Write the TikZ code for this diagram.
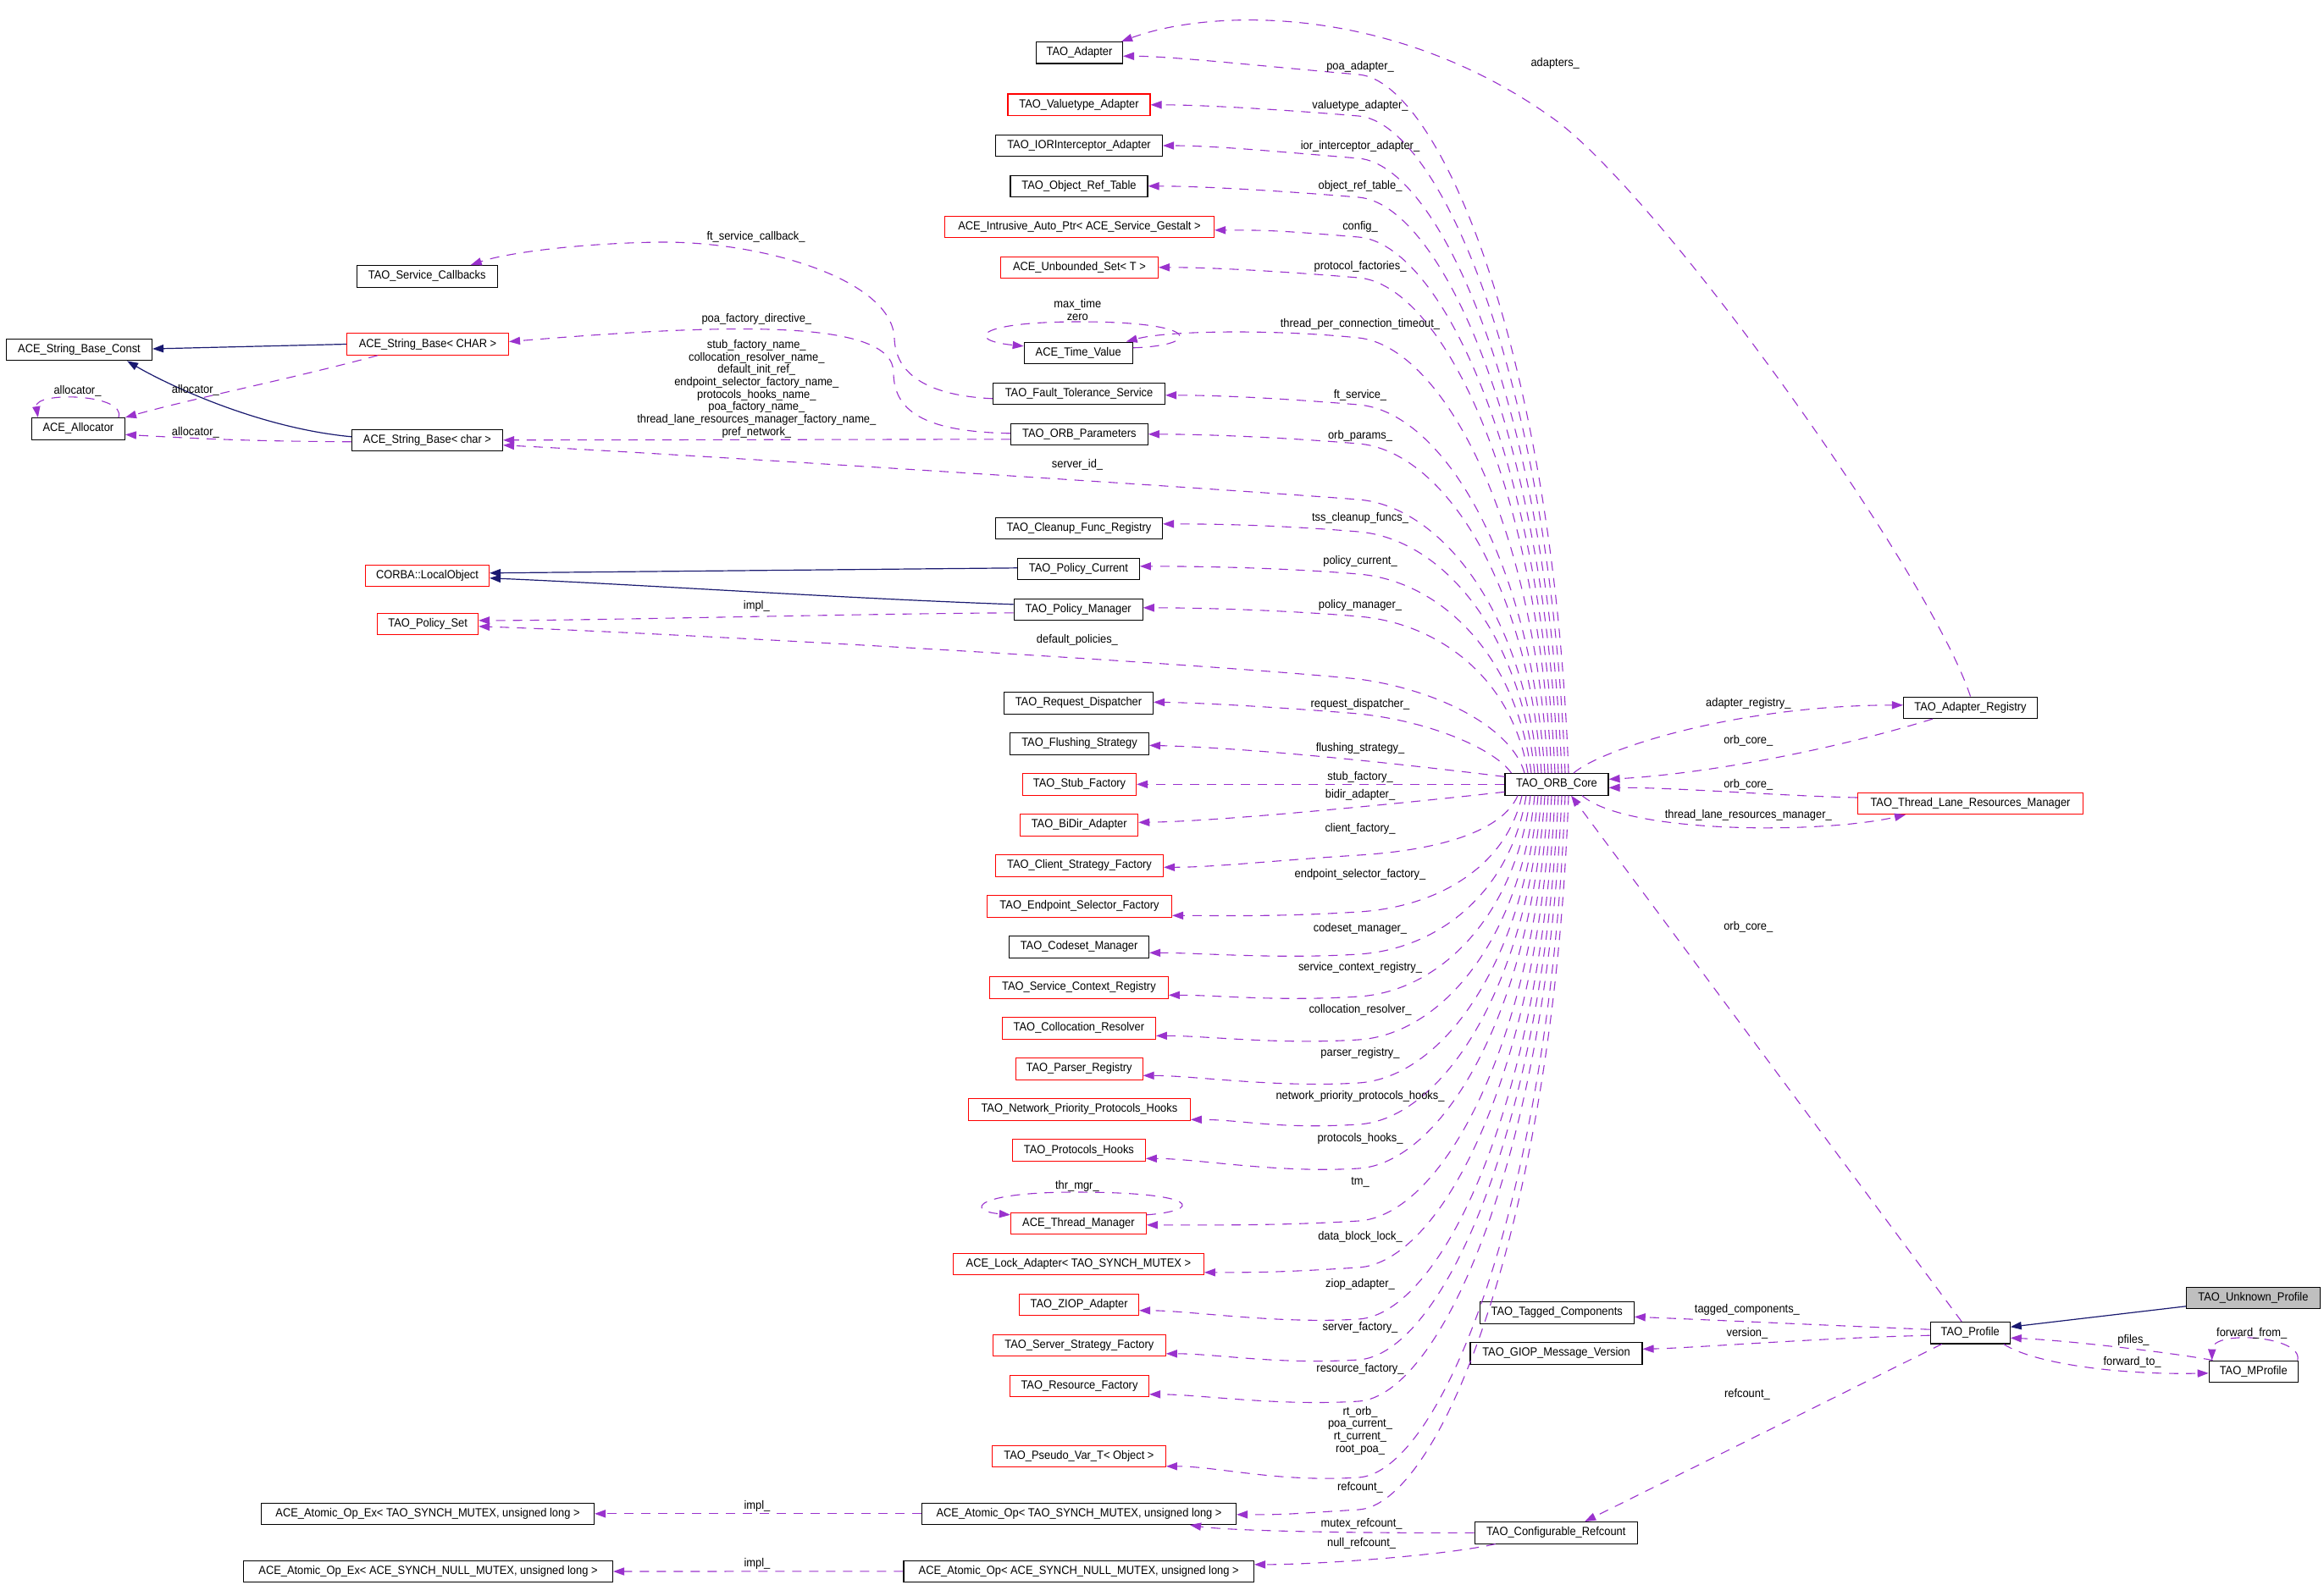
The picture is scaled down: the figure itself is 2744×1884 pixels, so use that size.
\documentclass[tikz,border=0pt]{standalone}
\usepackage{fontspec}
\setmainfont{Liberation Sans}[FakeStretch=0.92]
\usetikzlibrary{arrows.meta,calc}
\definecolor{purp}{HTML}{9A32CD}
\definecolor{navyb}{HTML}{191970}
\definecolor{greyf}{HTML}{BFBFBF}
\newcommand\dxfont{\fontsize{7}{7.35}\selectfont}
\tikzset{
  cls/.style={draw=black, line width=0.55pt, rectangle, minimum height=12.75pt, inner xsep=1pt, inner ysep=0pt, font=\dxfont},
  rcls/.style={cls, draw=red},
  mem/.style={draw=purp, line width=0.55pt, dash pattern=on 5.5pt off 4.5pt, -{Triangle[length=6.5pt,width=4.6pt]}},
  inh/.style={draw=navyb, line width=0.6pt, -{Triangle[length=6.5pt,width=4.6pt]}},
  lbl/.style={font=\dxfont, inner sep=0pt, align=center, text=black},
}
% edge from the top of the core to a member class on the left
\newcommand\coreup[4]{%
  \draw[mem] ($(core.north)+({#2-1838},0)$) .. controls ({#2-18},{#3+0.4*(913-#3)}) and (1700,{#3+8}) .. (1604,#3) .. controls (1508,{#3-8}) and ($(#1.east)+(60,#4)$) .. ($(#1.east)+(0,#4)$);}
% edge from the bottom of the core to a member class on the left
\newcommand\coredn[4]{%
  \draw[mem] ($(core.south)+({#2-1838},0)$) .. controls ({#2-18},{#3-0.4*(#3-939)}) and (1700,{#3-6}) .. (1604,#3) .. controls (1508,{#3+6}) and ($(#1.east)+(60,#4)$) .. ($(#1.east)+(0,#4)$);}
\begin{document}
\begin{tikzpicture}[x=0.5pt,y=-0.5pt]
\fill[white] (0,0) rectangle (2744,1884);
\useasboundingbox (0,0) rectangle (2744,1884);

% ---------- left nodes
\node[cls, minimum width=83pt] (csc) at (504.2,326.3) {TAO\_Service\_Callbacks};
\node[rcls, minimum width=95.5pt] (sbC) at (505,406.5) {ACE\_String\_Base< CHAR >};
\node[cls, minimum width=89pt] (sbc) at (504.5,519.8) {ACE\_String\_Base< char >};
\node[rcls, minimum width=73pt] (lobj) at (504.5,679.8) {CORBA::LocalObject};
\node[rcls, minimum width=59.5pt] (pset) at (505.1,736.8) {TAO\_Policy\_Set};
\node[cls, minimum width=196.5pt] (aoexT) at (505,1787.8) {ACE\_Atomic\_Op\_Ex< TAO\_SYNCH\_MUTEX, unsigned long >};
\node[cls, minimum width=218pt] (aoexA) at (505.5,1856) {ACE\_Atomic\_Op\_Ex< ACE\_SYNCH\_NULL\_MUTEX, unsigned long >};
\node[cls, minimum width=86pt] (sbconst) at (93.5,413) {ACE\_String\_Base\_Const};
\node[cls, minimum width=55pt] (alloc) at (92.4,506.3) {ACE\_Allocator};

% ---------- middle column
\node[cls, minimum width=51pt] (adapter) at (1274.5,62.3) {TAO\_Adapter};
\node[rcls, minimum width=84pt] (vta) at (1274,123.8) {TAO\_Valuetype\_Adapter};
\node[cls, minimum width=98.5pt] (ior) at (1274,172) {TAO\_IORInterceptor\_Adapter};
\node[cls, minimum width=81pt] (ort) at (1274,219.8) {TAO\_Object\_Ref\_Table};
\node[rcls, minimum width=159pt] (iap) at (1274.5,267.8) {ACE\_Intrusive\_Auto\_Ptr< ACE\_Service\_Gestalt >};
\node[rcls, minimum width=93pt] (uset) at (1274.4,315.8) {ACE\_Unbounded\_Set< T >};
\node[cls, minimum width=64pt] (tv) at (1273.2,416.8) {ACE\_Time\_Value};
\node[cls, minimum width=101.5pt] (fts) at (1274,464.8) {TAO\_Fault\_Tolerance\_Service};
\node[cls, minimum width=81pt] (orbp) at (1274.3,512.8) {TAO\_ORB\_Parameters};
\node[cls, minimum width=98.5pt] (cfr) at (1274,623.8) {TAO\_Cleanup\_Func\_Registry};
\node[cls, minimum width=72pt] (pcur) at (1273.4,671.8) {TAO\_Policy\_Current};
\node[cls, minimum width=76pt] (pman) at (1273.2,719.8) {TAO\_Policy\_Manager};
\node[cls, minimum width=88pt] (rd) at (1273.5,830.3) {TAO\_Request\_Dispatcher};
\node[cls, minimum width=82pt] (fs) at (1274.5,878.3) {TAO\_Flushing\_Strategy};
\node[rcls, minimum width=67pt] (sf) at (1274.5,926.3) {TAO\_Stub\_Factory};
\node[rcls, minimum width=69.5pt] (bidir) at (1274.2,974.3) {TAO\_BiDir\_Adapter};
\node[rcls, minimum width=99pt] (csf) at (1274.5,1022.3) {TAO\_Client\_Strategy\_Factory};
\node[rcls, minimum width=109pt] (esf) at (1274.5,1070.3) {TAO\_Endpoint\_Selector\_Factory};
\node[cls, minimum width=82.5pt] (csm) at (1274.1,1118.3) {TAO\_Codeset\_Manager};
\node[rcls, minimum width=105.5pt] (scr) at (1273.9,1166.3) {TAO\_Service\_Context\_Registry};
\node[rcls, minimum width=90.5pt] (cres) at (1273.9,1214.3) {TAO\_Collocation\_Resolver};
\node[rcls, minimum width=75pt] (preg) at (1274.1,1262.3) {TAO\_Parser\_Registry};
\node[rcls, minimum width=131pt] (npph) at (1274.4,1310.3) {TAO\_Network\_Priority\_Protocols\_Hooks};
\node[rcls, minimum width=78.5pt] (ph) at (1273.9,1358.3) {TAO\_Protocols\_Hooks};
\node[rcls, minimum width=80pt] (tmgr) at (1273.4,1444.8) {ACE\_Thread\_Manager};
\node[rcls, minimum width=148pt] (lock) at (1273.4,1492.8) {ACE\_Lock\_Adapter< TAO\_SYNCH\_MUTEX >};
\node[rcls, minimum width=70.5pt] (ziop) at (1274.1,1540.8) {TAO\_ZIOP\_Adapter};
\node[rcls, minimum width=102pt] (ssf) at (1274.3,1588.8) {TAO\_Server\_Strategy\_Factory};
\node[rcls, minimum width=82pt] (rf) at (1274.5,1636.8) {TAO\_Resource\_Factory};
\node[rcls, minimum width=102.5pt] (pvar) at (1273.9,1719.8) {TAO\_Pseudo\_Var\_T< Object >};
\node[cls, minimum width=185.5pt] (aoT) at (1274,1787.8) {ACE\_Atomic\_Op< TAO\_SYNCH\_MUTEX, unsigned long >};
\node[cls, minimum width=206.75pt] (aoA) at (1273.7,1855.8) {ACE\_Atomic\_Op< ACE\_SYNCH\_NULL\_MUTEX, unsigned long >};

% ---------- right part
\node[cls, minimum width=61pt] (core) at (1838,926.3) {TAO\_ORB\_Core};
\node[cls, minimum width=79pt] (areg) at (2326.5,835.8) {TAO\_Adapter\_Registry};
\node[rcls, minimum width=133pt] (tlrm) at (2326.5,949) {TAO\_Thread\_Lane\_Resources\_Manager};
\node[cls, minimum width=91pt] (tagc) at (1838.2,1550.3) {TAO\_Tagged\_Components};
\node[cls, minimum width=101.5pt] (giop) at (1837.5,1598.3) {TAO\_GIOP\_Message\_Version};
\node[cls, minimum width=96pt] (cref) at (1837.2,1810.3) {TAO\_Configurable\_Refcount};
\node[cls, minimum width=47pt] (prof) at (2326.2,1574.2) {TAO\_Profile};
\node[cls, fill=greyf, minimum width=79pt] (unk) at (2660.4,1532.8) {TAO\_Unknown\_Profile};
\node[cls, minimum width=52.5pt] (mprof) at (2660.7,1619.8) {TAO\_MProfile};

% ---------- inheritance
\draw[inh] (sbC.west) -- ($(sbconst.east)+(0,-1)$);
\draw[inh] ($(sbc.west)+(0,-4)$) .. controls (300,505) and (190,450) .. ($(sbconst.south east)+(-30,0)$);
\draw[inh] ($(pcur.west)+(0,-1)$) -- ($(lobj.east)+(0,-3)$);
\draw[inh] ($(pman.west)+(0,-6)$) .. controls (1000,707) and (750,690) .. ($(lobj.east)+(0,3)$);
\draw[inh] ($(unk.west)+(0,10)$) -- ($(prof.east)+(0,-7)$);

% ---------- left-side members
\draw[mem] ($(sbC.south west)+(37,0)$) .. controls (350,446) and (230,470) .. (alloc.north east);
\draw[mem] ($(sbc.west)+(0,2)$) .. controls (300,521) and (250,519) .. ($(alloc.east)+(0,7)$);
\draw[mem] ($(alloc.north east)+(-8,0)$) .. controls (150,465) and (40,462) .. ($(alloc.north west)+(8,0)$);
\node[lbl] (l-al0) at (91.5,462.3) {allocator\_};
\node[lbl] (l-al1) at (230.8,460.7) {allocator\_};
\node[lbl] (l-al2) at (230.8,510.7) {allocator\_};

\draw[mem] ($(fts.west)+(0,6)$) .. controls (1110,468) and (1058,450) .. (1056,400) .. controls (1054,330) and (900,285) .. (780,286) .. controls (690,287) and (600,298) .. ($(csc.north east)+(-32,0)$);
\node[lbl] (l-ftsc) at (892.5,280) {ft\_service\_callback\_};
\draw[mem] ($(orbp.west)+(0,-1)$) .. controls (1100,510) and (1055,490) .. (1055,440) .. controls (1055,375) and (850,383) .. ($(sbC.east)+(0,-3)$);
\node[lbl] (l-pfd) at (893.3,376.7) {poa\_factory\_directive\_};
\draw[mem] ($(orbp.west)+(0,6)$) -- (sbc.east);
\node[lbl] (l-names) at (893.3,459.2) {stub\_factory\_name\_\\collocation\_resolver\_name\_\\default\_init\_ref\_\\endpoint\_selector\_factory\_name\_\\protocols\_hooks\_name\_\\poa\_factory\_name\_\\thread\_lane\_resources\_manager\_factory\_name\_\\pref\_network\_};
\draw[mem] ($(pman.west)+(0,4)$) .. controls (1000,725) and (700,733) .. ($(pset.east)+(0,-4)$);
\node[lbl] (l-impl0) at (893.3,716) {impl\_};
\draw[mem] (aoT.west) -- (aoexT.east);
\node[lbl] (l-impl1) at (894,1779.3) {impl\_};
\draw[mem] (aoA.west) -- (aoexA.east);
\node[lbl] (l-impl2) at (894,1846.7) {impl\_};

% self loops
\draw[mem] ($(tv.east)+(0,-6)$) .. controls (1420,408) and (1420,380) .. (1275,380) .. controls (1150,380) and (1140,402) .. ($(tv.west)+(0,-8)$);
\node[lbl] (l-tv) at (1272.3,365.7) {max\_time\\zero};
\draw[mem] ($(tmgr.east)+(0,-10)$) .. controls (1420,1430) and (1420,1408) .. (1270,1408) .. controls (1150,1408) and (1140,1430) .. ($(tmgr.west)+(0,-10)$);
\node[lbl] (l-thr) at (1271.9,1400.7) {thr\_mgr\_};

% ---------- core members, upper part
\coreup{adapter}{1852}{88}{4}
\coreup{vta}{1848}{137}{0}
\coreup{ior}{1844}{187}{0}
\coreup{ort}{1840}{233}{0}
\coreup{iap}{1836}{280}{4}
\coreup{uset}{1832}{328}{0}
\draw[mem] ($(core.north)+(-10,0)$) .. controls (1810,605) and (1700,409) .. (1604,399) .. controls (1508,389) and (1380,390) .. ($(tv.north east)+(-8,0)$);
\coreup{fts}{1824}{478}{2}
\coreup{orbp}{1820}{524}{0}
\draw[mem] ($(core.north)+(-22,0)$) .. controls (1798,720) and (1700,598) .. (1604,590) .. controls (1450,578) and (800,536) .. ($(sbc.east)+(0,6)$);
\coreup{cfr}{1812}{628}{-5}
\coreup{pcur}{1808}{678}{-3}
\coreup{pman}{1804}{728}{-2}
\draw[mem] ($(core.north)+(-38,0)$) .. controls (1785,860) and (1700,815) .. (1604,802) .. controls (1400,782) and (800,748) .. ($(pset.east)+(0,3)$);
\draw[mem] ($(core.north west)+(8,0)$) .. controls (1765,885) and (1690,852) .. (1604,843) .. controls (1520,836) and (1420,830) .. ($(rd.east)+(0,-1)$);
\draw[mem] ($(core.west)+(0,-9)$) .. controls (1700,908) and (1500,884) .. ($(fs.east)+(0,2)$);
\draw[mem] (core.west) -- (sf.east);

\node[lbl] (l-u1) at (1606,79) {poa\_adapter\_};
\node[lbl] (l-u2) at (1606,124.7) {valuetype\_adapter\_};
\node[lbl] (l-u3) at (1606,172.7) {ior\_interceptor\_adapter\_};
\node[lbl] (l-u4) at (1606,220.3) {object\_ref\_table\_};
\node[lbl] (l-u5) at (1606,268.3) {config\_};
\node[lbl] (l-u6) at (1606,314.7) {protocol\_factories\_};
\node[lbl] (l-u7) at (1606,382.7) {thread\_per\_connection\_timeout\_};
\node[lbl] (l-u8) at (1606,467.3) {ft\_service\_};
\node[lbl] (l-u9) at (1606,514.7) {orb\_params\_};
\node[lbl] (l-u10) at (1272,548.7) {server\_id\_};
\node[lbl] (l-u11) at (1606,611.7) {tss\_cleanup\_funcs\_};
\node[lbl] (l-u12) at (1606,663.3) {policy\_current\_};
\node[lbl] (l-u13) at (1606,714.7) {policy\_manager\_};
\node[lbl] (l-u14) at (1271.9,755.7) {default\_policies\_};
\node[lbl] (l-u15) at (1606,832.3) {request\_dispatcher\_};
\node[lbl] (l-u16) at (1606,883.7) {flushing\_strategy\_};
\node[lbl] (l-u17) at (1606,918.3) {stub\_factory\_};

% ---------- core members, lower part
\draw[mem] ($(core.west)+(0,9)$) .. controls (1700,944) and (1450,970) .. ($(bidir.east)+(0,-3)$);
\coredn{csf}{1792}{1010}{2}
\coredn{esf}{1797}{1077}{11}
\coredn{csm}{1802}{1127}{7}
\coredn{scr}{1807}{1177}{9}
\coredn{cres}{1812}{1228}{9}
\coredn{preg}{1816}{1279}{8}
\coredn{npph}{1820}{1328}{12}
\coredn{ph}{1824}{1380}{10}
\coredn{tmgr}{1828}{1442}{2}
\coredn{lock}{1832}{1497}{10}
\coredn{ziop}{1836}{1558}{7}
\coredn{ssf}{1840}{1606}{10}
\coredn{rf}{1844}{1655}{10}
\coredn{pvar}{1848}{1745}{12}
\coredn{aoT}{1852}{1783}{1}

\node[lbl] (l-d1) at (1606,938.7) {bidir\_adapter\_};
\node[lbl] (l-d2) at (1606,978.7) {client\_factory\_};
\node[lbl] (l-d3) at (1606,1032.7) {endpoint\_selector\_factory\_};
\node[lbl] (l-d4) at (1606,1096.7) {codeset\_manager\_};
\node[lbl] (l-d5) at (1606,1143.3) {service\_context\_registry\_};
\node[lbl] (l-d6) at (1606,1192.7) {collocation\_resolver\_};
\node[lbl] (l-d7) at (1606,1243.7) {parser\_registry\_};
\node[lbl] (l-d8) at (1606,1294.7) {network\_priority\_protocols\_hooks\_};
\node[lbl] (l-d9) at (1606,1344.7) {protocols\_hooks\_};
\node[lbl] (l-d10) at (1606,1396) {tm\_};
\node[lbl] (l-d11) at (1606,1460.7) {data\_block\_lock\_};
\node[lbl] (l-d12) at (1606,1516.7) {ziop\_adapter\_};
\node[lbl] (l-d13) at (1606,1567.7) {server\_factory\_};
\node[lbl] (l-d14) at (1606,1616.7) {resource\_factory\_};
\node[lbl] (l-d15) at (1606,1689.7) {rt\_orb\_\\poa\_current\_\\rt\_current\_\\root\_poa\_};
\node[lbl] (l-d16) at (1606,1756.3) {refcount\_};

% ---------- right-side relations
\draw[mem] (areg.north) .. controls (2280,680) and (1960,230) .. (1834,140) .. controls (1644,4) and (1430,10) .. ($(adapter.north east)+(-2,0)$);
\node[lbl] (l-ads) at (1836.2,74.7) {adapters\_};
\draw[mem] ($(core.north)+(20,0)$) .. controls (1890,885) and (2050,833) .. ($(areg.west)+(0,-3)$);
\node[lbl] (l-ar) at (2064.3,830.7) {adapter\_registry\_};
\draw[mem] ($(areg.south west)+(35,0)$) .. controls (2150,890) and (2000,915) .. ($(core.east)+(0,-6)$);
\node[lbl] (l-oc1) at (2064.3,875) {orb\_core\_};
\draw[mem] ($(tlrm.west)+(0,-7)$) .. controls (2100,940) and (1980,930) .. ($(core.east)+(0,4)$);
\node[lbl] (l-oc2) at (2064.3,926.7) {orb\_core\_};
\draw[mem] ($(core.south)+(30,0)$) .. controls (1920,985) and (2150,985) .. ($(tlrm.south west)+(57,0)$);
\node[lbl] (l-tlrm) at (2064.3,962.7) {thread\_lane\_resources\_manager\_};
\draw[mem] ($(prof.north)+(-10,0)$) -- ($(core.south)+(17,0)$);
\node[lbl] (l-oc3) at (2064.3,1095) {orb\_core\_};

\draw[mem] ($(prof.west)+(0,-4)$) .. controls (2150,1565) and (2000,1558) .. ($(tagc.east)+(0,5)$);
\node[lbl] (l-tc) at (2062.9,1546.7) {tagged\_components\_};
\draw[mem] ($(prof.west)+(0,3)$) .. controls (2150,1580) and (2000,1592) .. ($(giop.east)+(0,-5)$);
\node[lbl] (l-ver) at (2062.9,1575) {version\_};
\draw[mem] ($(prof.south west)+(14,0)$) -- ($(cref.north)+(34,0)$);
\node[lbl] (l-rc) at (2062.9,1646.7) {refcount\_};
\draw[mem] ($(mprof.north west)+(5,0)$) .. controls (2560,1597) and (2440,1583) .. ($(prof.east)+(0,6)$);
\node[lbl] (l-pf) at (2519,1582.7) {pfiles\_};
\draw[mem] ($(prof.south east)+(-8,0)$) .. controls (2400,1610) and (2500,1624) .. ($(mprof.west)+(0,2)$);
\node[lbl] (l-ft) at (2517.6,1608.7) {forward\_to\_};
\draw[mem] ($(mprof.north east)+(-1,0)$) .. controls (2720,1578) and (2612,1570) .. ($(mprof.north west)+(4,0)$);
\node[lbl] (l-ff) at (2658.7,1574.3) {forward\_from\_};

\draw[mem] (cref.west) .. controls (1600,1811) and (1450,1808) .. ($(aoT.south east)+(-55,0)$);
\node[lbl] (l-mr) at (1607.6,1799.7) {mutex\_refcount\_};
\draw[mem] ($(cref.south west)+(25,0)$) .. controls (1700,1838) and (1550,1848) .. ($(aoA.east)+(0,-8)$);
\node[lbl] (l-nr) at (1607.6,1822.7) {null\_refcount\_};
\end{tikzpicture}
\end{document}
